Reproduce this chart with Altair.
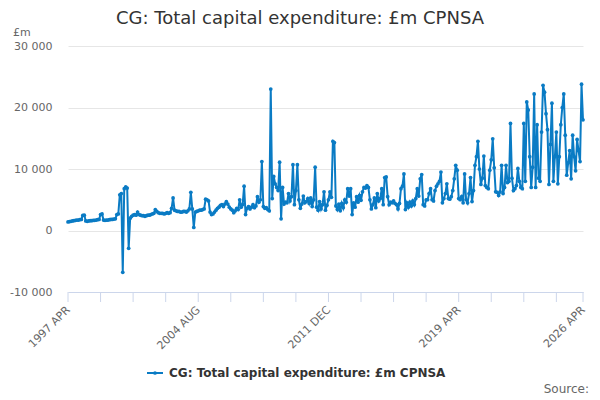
import pandas as pd
import altair as alt

chart_title = "CG: Total capital expenditure: £m CPNSA"
series_name = "CG: Total capital expenditure: £m CPNSA"
source_text = "Source:"
unit_label = "£m"

# monthly values, one list per financial year (April to March), £m
fy1997 = [1400, 1450, 1500, 1550, 1600, 1650, 1700, 1700, 1750, 1800, 2450, 2500]
fy1998 = [1550, 1500, 1550, 1600, 1600, 1650, 1650, 1700, 1750, 1800, 2600, 2700]
fy1999 = [1700, 1650, 1700, 1700, 1750, 1800, 1800, 1850, 1900, 2600, 2700, 5800]
fy2000 = [6000, -6800, 6800, 7100, 6900, -2900, 2000, 2300, 2500, 2600, 2500, 3000]
fy2001 = [2600, 2500, 2400, 2400, 2300, 2400, 2500, 2500, 2600, 2700, 2800, 3400]
fy2002 = [3100, 2900, 2800, 2800, 2800, 2700, 2800, 2900, 2800, 2900, 3600, 5300]
fy2003 = [3300, 3200, 3100, 3100, 3000, 3000, 3100, 3100, 3000, 3200, 3500, 6200]
fy2004 = [3500, 500, 3000, 3100, 3200, 3300, 3300, 3400, 3500, 5100, 5000, 4800]
fy2005 = [3000, 2600, 2700, 3000, 3300, 3600, 3800, 4100, 4200, 3900, 4300, 4700]
fy2006 = [4300, 3800, 3500, 3300, 2900, 3200, 3600, 3400, 5000, 3800, 4200, 7200]
fy2007 = [2600, 3600, 3900, 3500, 3800, 4200, 3700, 4000, 5500, 4600, 5000, 11200]
fy2008 = [3900, 3600, 3700, 3400, 3200, 23000, 5200, 8800, 7600, 7000, 6500, 11100]
fy2009 = [1900, 7000, 4300, 4600, 4500, 6000, 4800, 5500, 10700, 4200, 6500, 10700]
fy2010 = [5000, 3600, 4300, 5600, 4500, 4700, 5200, 4400, 5300, 3900, 5000, 10300]
fy2011 = [3800, 3300, 4700, 3500, 4200, 6300, 3300, 4100, 5000, 6300, 5400, 14500]
fy2012 = [14300, 4000, 3400, 4300, 3200, 4400, 3700, 5000, 4600, 6800, 5600, 6800]
fy2013 = [2600, 4500, 3800, 5500, 4600, 5700, 4900, 6300, 7000, 6900, 7300, 7000]
fy2014 = [5000, 3500, 4200, 5300, 3700, 6000, 4800, 5200, 6800, 4200, 8600, 8700]
fy2015 = [5500, 4200, 4600, 4500, 4800, 4400, 4200, 3500, 4400, 6800, 7200, 9200]
fy2016 = [3400, 4500, 3800, 4600, 4000, 4800, 4200, 5200, 6800, 5600, 8400, 9100]
fy2017 = [4200, 4000, 5000, 5000, 6000, 6800, 5000, 4800, 6500, 7200, 7600, 8000]
fy2018 = [9500, 4500, 5200, 6000, 7600, 5200, 5100, 5500, 6500, 8400, 10600, 9800]
fy2019 = [5200, 5000, 5500, 4500, 9200, 5000, 4500, 6000, 8600, 4700, 6500, 10600]
fy2020 = [12000, 14500, 10000, 7500, 8500, 12100, 7300, 7000, 6800, 9800, 11500, 14900]
fy2021 = [10200, 6300, 6200, 5700, 6300, 10600, 6000, 7000, 10600, 7800, 8000, 17400]
fy2022 = [8500, 6500, 6800, 7300, 10100, 8000, 7000, 6800, 17400, 8000, 20900, 19600]
fy2023 = [12000, 7000, 10300, 22200, 7000, 17200, 8500, 8000, 16000, 23600, 22500, 19000]
fy2024 = [16400, 7500, 14000, 20700, 8000, 12000, 16000, 7600, 12000, 17200, 20000, 22200]
fy2025 = [15500, 9000, 11000, 13000, 8400, 15500, 12000, 9700, 14800, 13000, 11200, 23800]
fy2026 = [18000]

values = (fy1997 + fy1998 + fy1999 + fy2000 + fy2001 + fy2002 + fy2003 + fy2004
          + fy2005 + fy2006 + fy2007 + fy2008 + fy2009 + fy2010 + fy2011 + fy2012
          + fy2013 + fy2014 + fy2015 + fy2016 + fy2017 + fy2018 + fy2019 + fy2020
          + fy2021 + fy2022 + fy2023 + fy2024 + fy2025 + fy2026)

# x axis: month index from 1997 APR, ticks every 22 months plus the last month
x_ticks = list(range(0, 331, 22)) + [348]
label_months = [0, 88, 176, 264, 348]
label_text = ["1997 APR", "2004 AUG", "2011 DEC", "2019 APR", "2026 APR"]
y_ticks = [-10000, 0, 10000, 20000, 30000]

df = pd.DataFrame({"month": list(range(len(values))), "value": values})
ticks_df = pd.DataFrame({"month": x_ticks})

label_expr = "".join(
    f"datum.value == {m} ? '{t}' : " for m, t in zip(label_months, label_text)) + "''"
y_expr = ("(datum.value < 0 ? '-' : '') + "
          "replace(format(abs(datum.value), ','), ',', ' ')")

blue = "#0a7bc4"
axis_grey = "#ccd6eb"

x_enc = alt.X(
    "month:Q",
    scale=alt.Scale(domain=[0, 348], nice=False, zero=False),
    axis=alt.Axis(
        values=x_ticks,
        labelExpr=label_expr,
        labelAngle=315,
        labelAlign="right",
        labelBaseline="middle",
        labelOverlap=False,
        labelFlush=False,
        labelPadding=16,
        labelFontSize=11,
        labelColor="#666666",
        ticks=False,
        domainColor=axis_grey,
        grid=False,
        title=None))

y_enc = alt.Y(
    "value:Q",
    scale=alt.Scale(domain=[-10000, 30000], nice=False),
    axis=alt.Axis(
        values=y_ticks,
        labelExpr=y_expr,
        labelPadding=16,
        labelFontSize=11,
        labelColor="#666666",
        gridColor="#e6e6e6",
        domain=False,
        ticks=False,
        title=None))

line = alt.Chart(df).mark_line(color=blue, strokeWidth=2).encode(x=x_enc, y=y_enc)
dots = alt.Chart(df).mark_point(filled=True, color=blue, size=14, opacity=1).encode(
    x="month:Q", y="value:Q")

# tick marks below the x axis line
tick_marks = alt.Chart(ticks_df).mark_rule(color=axis_grey, strokeWidth=1).encode(
    x="month:Q", y=alt.value(246), y2=alt.value(256))

one = pd.DataFrame({"t": [series_name]})

# legend drawn below the plot
leg_line = alt.Chart(one).mark_rule(color=blue, strokeWidth=2).encode(
    x=alt.value(79), x2=alt.value(95), y=alt.value(327))
leg_dot = alt.Chart(one).mark_point(filled=True, color=blue, size=14, opacity=1).encode(
    x=alt.value(87), y=alt.value(327))
leg_text = alt.Chart(one).mark_text(
    align="left", baseline="middle", fontSize=12, fontWeight="bold",
    color="#333333").encode(x=alt.value(101), y=alt.value(327), text="t:N")

src = alt.Chart(pd.DataFrame({"t": [source_text]})).mark_text(
    align="right", baseline="middle", fontSize=12, color="#666666").encode(
    x=alt.value(521), y=alt.value(343), text="t:N")

unit = alt.Chart(pd.DataFrame({"t": [unit_label]})).mark_text(
    align="left", baseline="middle", fontSize=11, color="#666666").encode(
    x=alt.value(-55), y=alt.value(-13), text="t:N")

title = alt.Chart(pd.DataFrame({"t": [chart_title]})).mark_text(
    align="center", baseline="alphabetic", fontSize=18, color="#333333").encode(
    x=alt.value(232), y=alt.value(-22), text="t:N")

chart = (line + dots + tick_marks + leg_line + leg_dot + leg_text + src + unit
         + title).properties(
    width=515,
    height=246,
    autosize=alt.AutoSizeParams(type="none"),
    padding={"left": 60, "top": 38, "right": 9, "bottom": 106})

chart = chart.configure(font="DejaVu Sans").configure_view(stroke=None)

chart.save("out.html", embed_options={"renderer": "svg", "actions": False})
